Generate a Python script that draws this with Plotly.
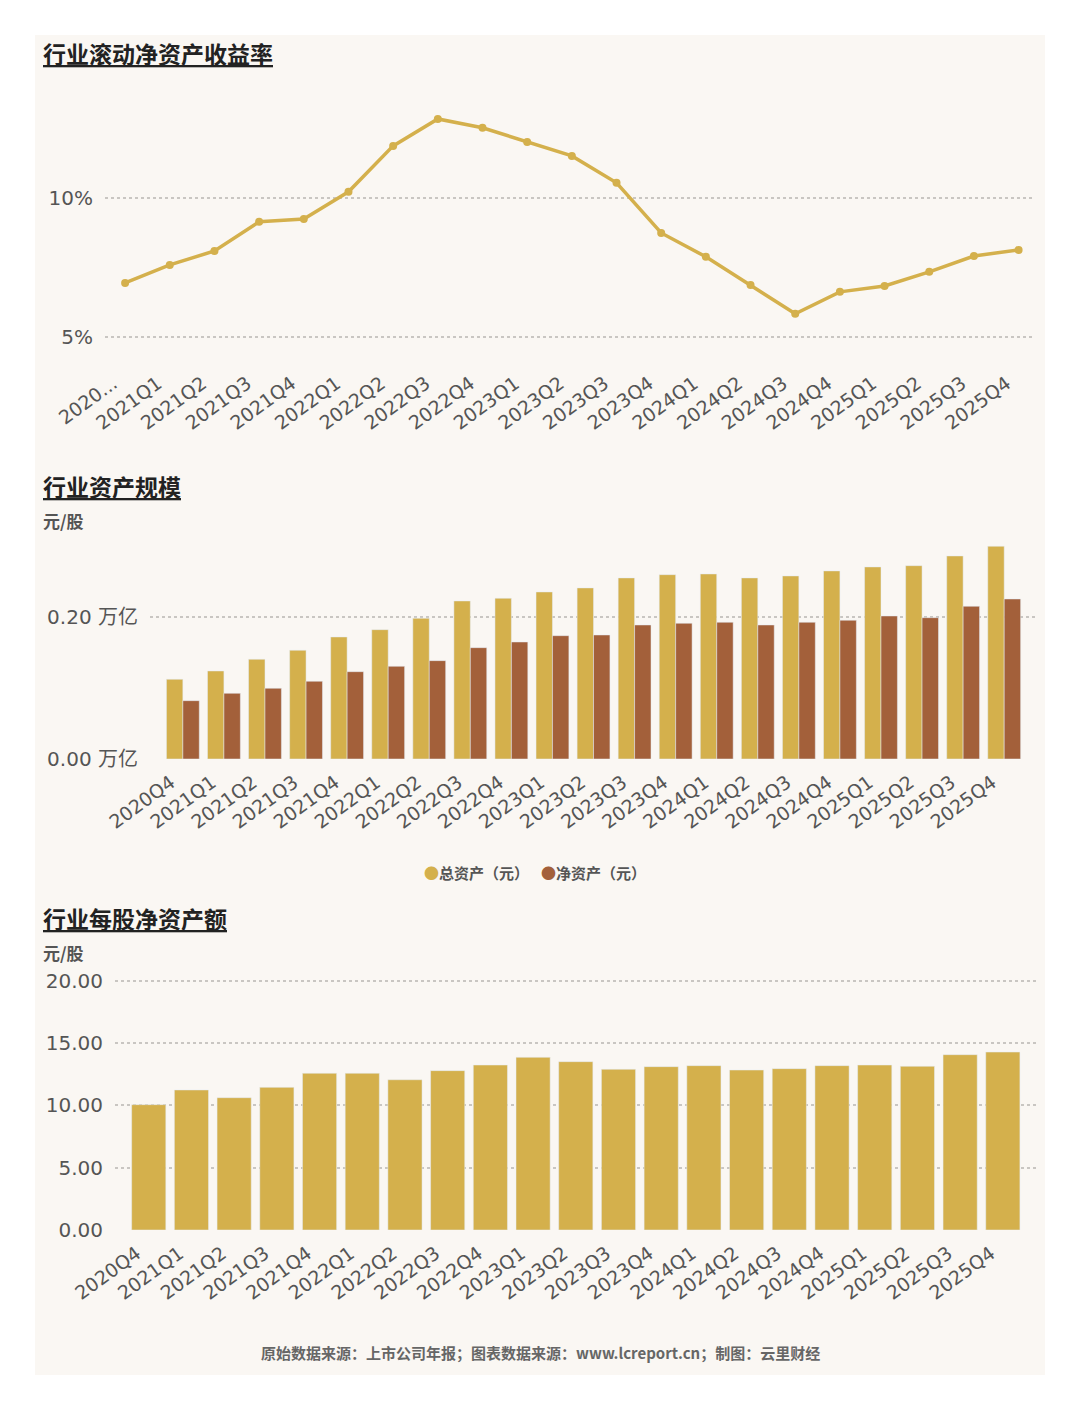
import plotly.graph_objects as go

# page body keeps an 8px margin, so the figure is drawn 8px in from the window edge
OFF = 8
W, H = 1080 - 2 * OFF, 1410 - 2 * OFF

quarters = ['2020Q4', '2021Q1', '2021Q2', '2021Q3', '2021Q4',
            '2022Q1', '2022Q2', '2022Q3', '2022Q4',
            '2023Q1', '2023Q2', '2023Q3', '2023Q4',
            '2024Q1', '2024Q2', '2024Q3', '2024Q4',
            '2025Q1', '2025Q2', '2025Q3', '2025Q4']
roe_labels = ['2020...'] + quarters[1:]

# 行业滚动净资产收益率 (%)
roe = [6.94, 7.59, 8.09, 9.14, 9.24, 10.22, 11.87, 12.84, 12.52, 12.01, 11.51,
       10.54, 8.74, 7.88, 6.87, 5.83, 6.62, 6.83, 7.34, 7.91, 8.13]

# 行业资产规模 (万亿)
total_assets = [0.1125, 0.1242, 0.1407, 0.1534, 0.1722, 0.1825, 0.1986, 0.2230,
                0.2268, 0.2357, 0.2414, 0.2555, 0.2601, 0.2611, 0.2555, 0.2583,
                0.2654, 0.2710, 0.2728, 0.2865, 0.3002]
net_assets = [0.0823, 0.0927, 0.0998, 0.1097, 0.1232, 0.1308, 0.1388, 0.1571,
              0.1651, 0.1740, 0.1750, 0.1891, 0.1915, 0.1929, 0.1891, 0.1929,
              0.1958, 0.2018, 0.1994, 0.2155, 0.2258]

# 行业每股净资产额 (元/股)
bvps = [10.05, 11.23, 10.61, 11.44, 12.57, 12.57, 12.05, 12.78, 13.23, 13.85,
        13.50, 12.89, 13.10, 13.18, 12.83, 12.94, 13.18, 13.23, 13.13, 14.06, 14.27]

GOLD = '#D4B04C'
BROWN = '#A3603A'
BG = '#FAF7F3'
GRID = '#C9C6C2'
TXT = '#555555'
FONT = 'DejaVu Sans, Noto Sans CJK SC'
CJK = 'Noto Sans CJK SC'


def fx(px):
    return (px - OFF) / W


def fy(py):
    return 1 - (py - OFF) / H


fig = go.Figure()

fig.add_trace(go.Scatter(x=quarters, y=roe, mode='lines+markers',
                         line=dict(color=GOLD, width=3.5),
                         marker=dict(color=GOLD, size=8),
                         showlegend=False, xaxis='x', yaxis='y'))

fig.add_trace(go.Bar(x=quarters, y=total_assets, name='总资产（元）',
                     marker_color=GOLD, showlegend=False, xaxis='x2', yaxis='y2'))
fig.add_trace(go.Bar(x=quarters, y=net_assets, name='净资产（元）',
                     marker_color=BROWN, showlegend=False, xaxis='x2', yaxis='y2'))
# legend entries drawn as a coloured dot glyph right before the name;
# the last blank entry only widens the legend box so nothing gets clipped
legend_items = [('<span style="color:%s">●</span>总资产（元）' % GOLD),
                ('<span style="color:%s">●</span>净资产（元）' % BROWN),
                ' ']
for name in legend_items:
    fig.add_trace(go.Scatter(x=[None], y=[None], mode='markers', name=name,
                             marker=dict(color='rgba(0,0,0,0)', size=1,
                                         line=dict(width=0)),
                             xaxis='x2', yaxis='y2'))

fig.add_trace(go.Bar(x=quarters, y=bvps, marker_color=GOLD, showlegend=False,
                     xaxis='x3', yaxis='y3'))

xcommon = dict(type='category', showgrid=False, zeroline=False, showline=False,
               ticks='', tickangle=-36, ticklabelshift=-12, ticklabelstandoff=8,
               tickfont=dict(size=19, color=TXT, family=FONT))
ycommon = dict(showgrid=True, gridcolor=GRID, griddash='dot', gridwidth=1.5,
               zeroline=False, showline=False, ticks='', ticklabelstandoff=11,
               tickfont=dict(size=20, color=TXT, family=FONT))

fig.update_layout(
    width=W, height=H,
    margin=dict(l=0, r=0, t=0, b=0, autoexpand=False),
    paper_bgcolor='white', plot_bgcolor='rgba(0,0,0,0)',
    font=dict(family=FONT, color=TXT),
    barmode='group', bargap=0.2, bargroupgap=0,
    xaxis=dict(xcommon, domain=[fx(105), fx(1032)], range=[-0.45, 20.3],
               tickmode='array', tickvals=quarters, ticktext=roe_labels, anchor='y'),
    yaxis=dict(ycommon, domain=[fy(360), fy(100)], range=[4.17, 13.52],
               tickvals=[5, 10], ticktext=['5%', '10%'], anchor='x'),
    xaxis2=dict(xcommon, domain=[fx(150), fx(1035)], range=[-0.8, 20.75], anchor='y2'),
    yaxis2=dict(ycommon, domain=[fy(759), fy(540)], range=[0, 0.309],
                tickvals=[0, 0.2], ticktext=['0.00 万亿', '0.20 万亿'], anchor='x2'),
    xaxis3=dict(xcommon, domain=[fx(115), fx(1037)], range=[-0.79, 20.8], anchor='y3'),
    yaxis3=dict(ycommon, domain=[fy(1230), fy(975)], range=[0, 20.45],
                tickvals=[0, 5, 10, 15, 20], tickformat='.2f', anchor='x3'),
    legend=dict(orientation='h', x=fx(384), xanchor='left', y=fy(873), yanchor='middle',
                font=dict(size=15, color=TXT, family=CJK, weight='bold'),
                bgcolor='rgba(0,0,0,0)', itemwidth=30, entrywidth=72,
                traceorder='normal'),
)

fig.add_shape(type='rect', xref='paper', yref='paper', layer='below',
              x0=fx(35), x1=fx(1045), y0=fy(1375), y1=fy(35),
              fillcolor=BG, line=dict(width=0))

titles = [('行业滚动净资产收益率', 53), ('行业资产规模', 486), ('行业每股净资产额', 918)]
for text, py in titles:
    fig.add_annotation(text='<u>' + text + '</u>', xref='paper', yref='paper',
                       x=fx(41), y=fy(py), xanchor='left', yanchor='middle', showarrow=False,
                       font=dict(size=23, color='#222222', family=CJK, weight='bold'))

for py in [520, 952]:
    fig.add_annotation(text='元/股', xref='paper', yref='paper',
                       x=fx(41), y=fy(py), xanchor='left', yanchor='middle', showarrow=False,
                       font=dict(size=17, color=TXT, family=CJK, weight='bold'))

fig.add_annotation(text='原始数据来源：上市公司年报；图表数据来源：www.lcreport.cn；制图：云里财经',
                   xref='paper', yref='paper', x=fx(540), y=fy(1352),
                   xanchor='center', yanchor='middle', showarrow=False,
                   font=dict(size=15, color='#666666', family=CJK, weight='bold'))

fig.write_html("out.html")
